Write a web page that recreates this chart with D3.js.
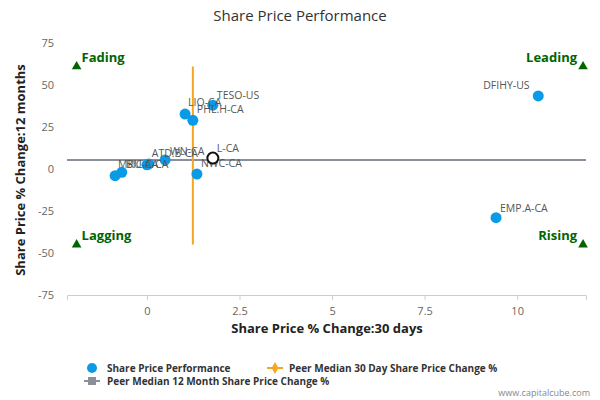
<!DOCTYPE html>
<html><head><meta charset="utf-8">
<script src="https://cdn.jsdelivr.net/npm/d3@7"></script>
<style>body{margin:0;font-family:"Open Sans",sans-serif;}</style>
</head><body>
<script>
// Data
const tickers = ["DFIHY-US","EMP.A-CA","TESO-US","LIO-CA","PHL.H-CA","WN-CA","ATD.B-CA","BIC.A-CA","MRU-CA","MRU2","NWC-CA"];
const day30 = [10.57, 9.43, 1.78, 1.03, 1.24, 0.49, 0.05, 0.0, -0.86, -0.68, 1.35];
const month12 = [43.5, -29, 38, 32.7, 29, 5.4, 3, 2.5, -4, -2, -3];
const labelOffsets = [[-55,-7],[4,-6],[4,-6],[3,-8],[4,-7],[5,-5],[3,-7],[-21,3],[3,-8],[-1000,0],[4,-7]];
const focus = {name:"L-CA", x:1.78, y:6.5};
const median30 = 1.24, median12 = 5.4;
const xTicks = [0, 2.5, 5, 7.5, 10];
const yTicks = [75, 50, 25, 0, -25, -50, -75];

const svg = d3.select("body").append("svg").attr("width",600).attr("height",400);
const x = d3.scaleLinear().domain([-2.16, 11.86]).range([67, 586]);
const y = d3.scaleLinear().domain([-75, 75]).range([295, 43]);

svg.append("text").attr("x",300).attr("y",21).attr("text-anchor","middle")
  .attr("font-size",15).attr("fill","#333").text("Share Price Performance");

// axes
const gx = svg.append("g").attr("transform","translate(0,295)")
  .call(d3.axisBottom(x).tickValues(xTicks).tickSize(5).tickFormat(d3.format("")));
gx.select(".domain").attr("stroke","#c0d0e0");
gx.selectAll("line").attr("stroke","#c0d0e0");
gx.selectAll("text").attr("fill","#666").attr("font-size",11).attr("font-family","Open Sans").attr("dy","1.1em");
yTicks.forEach(t => svg.append("text").attr("x",54).attr("y",y(t)+4)
  .attr("text-anchor","end").attr("font-size",11).attr("fill","#666").text(t));

svg.append("text").attr("x",327).attr("y",333).attr("text-anchor","middle")
  .attr("font-size",13).attr("font-weight","bold").attr("fill","#222").text("Share Price % Change:30 days");
svg.append("text").attr("transform","translate(25,170) rotate(-90)").attr("text-anchor","middle")
  .attr("font-size",13).attr("font-weight","bold").attr("fill","#222").text("Share Price % Change:12 months");

// median lines
svg.append("line").attr("x1",x.range()[0]).attr("x2",x.range()[1]).attr("y1",y(median12)).attr("y2",y(median12))
  .attr("stroke","#8a8f9a").attr("stroke-width",2);
svg.append("line").attr("x1",x(median30)).attr("x2",x(median30)).attr("y1",y(61)).attr("y2",y(-45))
  .attr("stroke","#f5a623").attr("stroke-width",2);

// quadrant markers
const quads = [["Fading",-1.9,61,"start",5],["Leading",11.78,61,"end",-6],["Lagging",-1.9,-45,"start",5],["Rising",11.78,-45,"end",-6]];
quads.forEach(([t,qx,qy,anc,dx]) => {
  svg.append("path").attr("d",d3.symbol(d3.symbolTriangle,40)()).attr("fill","#006400")
    .attr("transform",`translate(${x(qx)},${y(qy)})`);
  svg.append("text").attr("x",x(qx)+dx).attr("y",y(qy)-5).attr("text-anchor",anc)
    .attr("font-size",13).attr("font-weight","bold").attr("fill","#006400").text(t);
});

// points
tickers.forEach((t,i) => {
  svg.append("circle").attr("cx",x(day30[i])).attr("cy",y(month12[i])).attr("r",5.5).attr("fill","#0b9be6");
  svg.append("text").attr("x",x(day30[i])+labelOffsets[i][0]).attr("y",y(month12[i])+labelOffsets[i][1])
    .attr("font-size",10.5).attr("fill","#555").text(t);
});
svg.append("circle").attr("cx",x(focus.x)).attr("cy",y(focus.y)).attr("r",5.5)
  .attr("fill","white").attr("stroke","#111").attr("stroke-width",2);
svg.append("text").attr("x",x(focus.x)+4).attr("y",y(focus.y)-6).attr("font-size",10.5).attr("fill","#555").text(focus.name);

// legend
const lg = svg.append("g").attr("font-size",10).attr("font-weight","bold").attr("fill","#333");
lg.append("circle").attr("cx",92).attr("cy",368).attr("r",5).attr("fill","#0b9be6");
lg.append("text").attr("x",107).attr("y",372).text("Share Price Performance");
lg.append("line").attr("x1",267).attr("x2",283).attr("y1",368).attr("y2",368).attr("stroke","#f5a623").attr("stroke-width",2);
lg.append("path").attr("d",d3.symbol(d3.symbolDiamond,40)()).attr("fill","#f5a623").attr("transform","translate(275,368)");
lg.append("text").attr("x",289).attr("y",372).text("Peer Median 30 Day Share Price Change %");
lg.append("line").attr("x1",84).attr("x2",100).attr("y1",381).attr("y2",381).attr("stroke","#8a8f9a").attr("stroke-width",2);
lg.append("rect").attr("x",88).attr("y",377).attr("width",8).attr("height",8).attr("fill","#8a8f9a");
lg.append("text").attr("x",107).attr("y",385).text("Peer Median 12 Month Share Price Change %");
svg.append("text").attr("x",590).attr("y",396).attr("text-anchor","end").attr("font-size",9).attr("fill","#888").text("www.capitalcube.com");
</script>
</body></html>
